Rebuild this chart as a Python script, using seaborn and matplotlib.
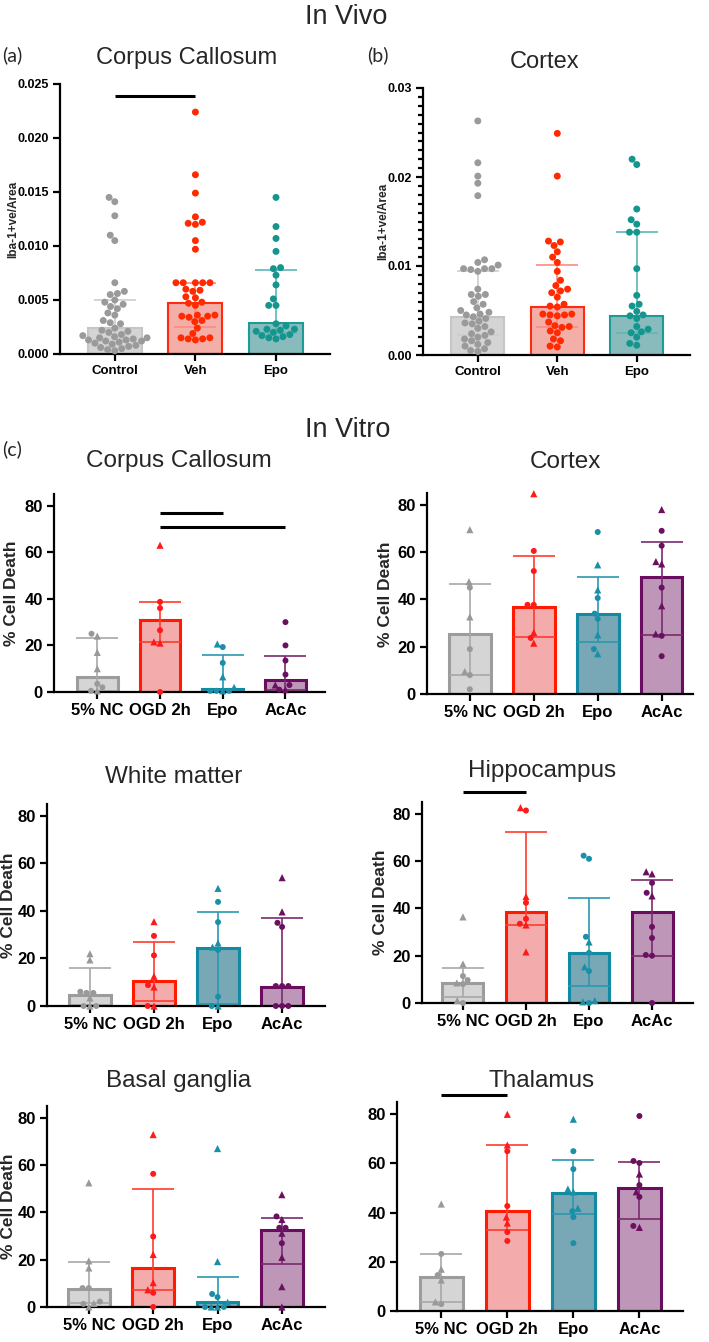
import warnings
warnings.filterwarnings("ignore")
import numpy as np
import pandas as pd
import matplotlib
matplotlib.use("Agg")
import matplotlib.pyplot as plt
from matplotlib.markers import MarkerStyle
from matplotlib.transforms import Affine2D
from matplotlib.ticker import MultipleLocator
import seaborn as sns

# ---------------- DATA ----------------
IV_CATS = ["Control", "Veh", "Epo"]
VT_CATS = ["5% NC", "OGD 2h", "Epo", "AcAc"]

# In vivo (a) Corpus Callosum, Iba-1+ve/Area
A_CONTROL = [0.0145, 0.0141, 0.0128, 0.0110, 0.0105, 0.0066, 0.0058, 0.0056, 0.0055, 0.0050,
             0.0048, 0.0046, 0.0044, 0.0042, 0.0038, 0.0036, 0.0031, 0.0029, 0.0028, 0.0024,
             0.0022, 0.0021, 0.0020, 0.0018, 0.0017, 0.0016, 0.0015, 0.0015, 0.0014, 0.0013,
             0.0013, 0.0012, 0.0012, 0.0011, 0.0010, 0.0009, 0.0008, 0.0007, 0.0006, 0.0005,
             0.0004, 0.0003]
A_VEH = [0.0224, 0.0166, 0.0149, 0.0127, 0.0122, 0.0121, 0.0120, 0.0105, 0.0097, 0.0066,
         0.0066, 0.0066, 0.0066, 0.0066, 0.0060, 0.0059, 0.0058, 0.0053, 0.0052, 0.0048,
         0.0047, 0.0045, 0.0036, 0.0036, 0.0035, 0.0035, 0.0034, 0.0031, 0.0030, 0.0024,
         0.0019, 0.0015, 0.0015, 0.0014, 0.0014, 0.0013]
A_EPO = [0.0145, 0.0118, 0.0107, 0.0095, 0.0080, 0.0079, 0.0073, 0.0064, 0.0051, 0.0045,
         0.0045, 0.0028, 0.0026, 0.0023, 0.0023, 0.0022, 0.0021, 0.0020, 0.0018, 0.0017,
         0.0016, 0.0015, 0.0014]
A_MED = [0.0024, 0.0047, 0.0029]
A_LO = [0.0012, 0.0025, 0.0019]
A_HI = [0.0050, 0.0066, 0.0078]
A_SIG = [(0, 1, 0.0239)]

# In vivo (b) Cortex
B_CONTROL = [0.0263, 0.0216, 0.0201, 0.0193, 0.0179, 0.0107, 0.0104, 0.0101, 0.0097, 0.0097,
             0.0097, 0.0096, 0.0094, 0.0074, 0.0068, 0.0068, 0.0066, 0.0060, 0.0057, 0.0053,
             0.0050, 0.0048, 0.0046, 0.0045, 0.0043, 0.0041, 0.0038, 0.0036, 0.0035, 0.0032,
             0.0030, 0.0026, 0.0024, 0.0022, 0.0020, 0.0018, 0.0016, 0.0014, 0.0012, 0.0010,
             0.0007, 0.0005, 0.0004]
B_VEH = [0.0249, 0.0201, 0.0128, 0.0127, 0.0123, 0.0116, 0.0110, 0.0104, 0.0094, 0.0084,
         0.0078, 0.0074, 0.0072, 0.0070, 0.0065, 0.0057, 0.0055, 0.0054, 0.0046, 0.0046,
         0.0045, 0.0045, 0.0044, 0.0037, 0.0033, 0.0032, 0.0031, 0.0027, 0.0025, 0.0018,
         0.0016, 0.0010, 0.0009]
B_EPO = [0.0220, 0.0214, 0.0164, 0.0152, 0.0147, 0.0138, 0.0138, 0.0097, 0.0067, 0.0057,
         0.0055, 0.0049, 0.0045, 0.0044, 0.0041, 0.0032, 0.0029, 0.0026, 0.0025, 0.0020,
         0.0013, 0.0011]
B_MED = [0.0043, 0.0054, 0.0044]
B_LO = [0.0022, 0.0032, 0.0025]
B_HI = [0.0094, 0.0101, 0.0138]

# In vitro (% cell death); triangles and circles per group
CC_TRI = [[24, 17, 10, 0.5], [63, 21.5, 21], [20.6, 6.5, 2, 0.5], [3, 1]]
CC_CIR = [[25, 3.5, 2, 0.5], [38.7, 36, 26.5, 0], [19.3, 12.5, 0.5, 0.5, 0.5], [30, 20, 13.5, 7.5, 3, 1]]
CC_MED = [6.5, 31, 1.5, 5]
CC_LO = [0.5, 21.5, 0.5, 1]
CC_HI = [23, 38.5, 16, 15.5]
CC_SIG = [(1, 2, 77), (1, 3, 71)]

CX_TRI = [[69.5, 47.5, 32.6, 9.5], [84.7, 26, 21.5], [54.6, 44, 25, 17], [78, 56, 55, 37.3, 25.4]]
CX_CIR = [[45, 19, 8, 2], [60.5, 52, 37.7, 37.7, 23.7], [68.5, 40.6, 34, 31.8, 19], [69, 62.7, 45, 24.6, 16]]
CX_MED = [25.5, 37, 34, 49.5]
CX_LO = [8, 24, 22, 25]
CX_HI = [46.5, 58.4, 49.5, 64.3]

WM_TRI = [[22, 19.4, 3.4, 0], [35.5, 12.5, 8, 0], [49.5, 26.5, 24.8, 0], [54, 39.6]]
WM_CIR = [[6, 5.5, 5.5, 0, 0], [29.5, 21.3, 8.8, 0], [43.8, 35.3, 23.6, 3.9, 0], [35, 33.3, 8.4, 8.4, 8.4, 0, 0, 0]]
WM_MED = [4.6, 10.5, 24.4, 8]
WM_LO = [0.5, 2, 1, 0]
WM_HI = [15.8, 27, 39.5, 37]

HP_TRI = [[36.4, 16.5, 8.5, 1], [82.6, 45, 33, 21.6], [25.8, 15.3, 1, 0.5], [55.5, 54.6, 45.3]]
HP_CIR = [[11.4, 9.7, 8, 0], [81.4, 42.4, 35.6, 33.5], [62.3, 61, 28, 21.2, 13.5, 0], [50.8, 46.6, 32.2, 27.5, 20.3, 20, 0]]
HP_MED = [8.5, 38.5, 21, 38.5]
HP_LO = [2.5, 33, 7, 20]
HP_HI = [15, 72.5, 44.5, 52]
HP_SIG = [(0, 1, 89.4)]

BG_TRI = [[52.5, 19.5, 16.5, 1.5, 0], [72.9, 22.2, 10.3, 7.3], [67, 19.2, 2, 0, 0], [47.5, 37, 31.2, 21, 8.6, 0]]
BG_CIR = [[8, 8, 2.3, 1.3], [56.3, 29.8, 6, 0], [5.5, 4.2, 0, 0], [38.3, 33.5, 33.5, 27]]
BG_MED = [7.5, 16.3, 2, 32.5]
BG_LO = [1.5, 7, 0, 18.3]
BG_HI = [19, 49.7, 12.5, 37.5]

TH_TRI = [[43.5, 17, 12.6, 3.7], [80, 67.5, 38.2, 35.8], [78, 49.6, 48.4, 41.8], [55.7, 48.5, 34]]
TH_CIR = [[23.2, 14.6, 2.8], [65, 42.7, 32.1, 28.5], [65, 57.7, 40.6, 38.2, 27.6], [79.3, 61, 60.2, 51.2, 46.4, 34.6]]
TH_MED = [14, 40.5, 48, 50]
TH_LO = [3.5, 33, 39.5, 37.5]
TH_HI = [23, 67.5, 61.3, 60.5]
TH_SIG = [(0, 1, 87.8)]

VT_YTICKS = [0, 20, 40, 60, 80]

# ---------------- STYLE ----------------
IV_FILL = ['#d4d4d4', '#ffa49c', '#80c3c5']
IV_EDGE = ['#c6c6c6', '#ff2a10', '#1a9c98']
IV_PTS = ['#9a9a9a', '#ff2a00', '#14968f']
IV_ERR = ['#cdcdcd', '#ff8a80', '#5ab9b5']

VT_FILL = ['#d5d5d5', '#ff9f9f', '#6eadbf', '#c48fbd']
VT_EDGE = ['#9c9c9c', '#ff1a00', '#138aa3', '#6a0d5e']
VT_PTS = ['#999999', '#ff1a1a', '#1a8fa8', '#6b1060']
VT_ERR = ['#a8a8a8', '#ff3b2f', '#2a98b0', '#7a2a6e']

W, H = 709, 1342
sns.set_theme(style="ticks")
plt.rcParams['font.family'] = ['Liberation Sans', 'DejaVu Sans']

fig = plt.figure(figsize=(W / 100, H / 100), dpi=100)
fig.patch.set_facecolor('white')


def add_ax(l, t, r, b):
    return fig.add_axes([l / W, 1 - b / H, (r - l) / W, (b - t) / H])


def ftext(x, y, s, **kw):
    fig.text(x / W, 1 - y / H, s, **kw)


def _mpath(m, scale=1.0):
    ms = MarkerStyle(m)
    return ms.get_path().transformed(ms.get_transform() + Affine2D().scale(scale))


PATHS = {'o': _mpath('o'), '^': _mpath('^', 1.2)}


def draw_panel(ax, cats, tri, cir, med, lo, hi, fills, edges, pts, errc, ylim, yticks, yticklabels,
               xlim, bar_w, pt_size, fs_tick, fs_x, edge_lw, cap, sigs=()):
    rows = []
    for c, tv, cv in zip(cats, tri, cir):
        for v in tv:
            rows.append((c, v, '^'))
        for v in cv:
            rows.append((c, v, 'o'))
    df = pd.DataFrame(rows, columns=['group', 'value', 'marker'])
    bar_df = pd.DataFrame({'group': cats, 'value': med})
    sns.barplot(data=bar_df, x='group', y='value', hue='group', order=cats, hue_order=cats,
                palette=fills, width=bar_w, legend=False, ax=ax, errorbar=None, zorder=1)
    for p, ec in zip(ax.patches, edges):
        p.set_edgecolor(ec)
        p.set_linewidth(edge_lw)
    x = np.arange(len(cats))
    for i in range(len(cats)):
        ax.errorbar(x[i], med[i], yerr=[[med[i] - lo[i]], [hi[i] - med[i]]], fmt='none',
                    ecolor=errc[i], elinewidth=1.2, capsize=cap, capthick=1.2, zorder=2)
    n0 = len(ax.collections)
    sns.swarmplot(data=df, x='group', y='value', hue='group', order=cats, hue_order=cats,
                  palette=pts, size=pt_size, legend=False, ax=ax, zorder=3, clip_on=False,
                  linewidth=0)
    for coll in ax.collections[n0:]:
        offs = np.asarray(coll.get_offsets())
        if len(offs) == 0:
            continue
        gi = int(round(float(np.median(offs[:, 0]))))
        sub = df[df.group == cats[gi]]
        pool = {}
        for v, m in zip(sub.value, sub.marker):
            pool.setdefault(round(float(v), 6), []).append(m)
        kinds = []
        for yv in offs[:, 1]:
            lst = pool.get(round(float(yv), 6), ['o'])
            kinds.append(lst.pop(0) if lst else 'o')
        coll.set_paths([PATHS[k] for k in kinds])
    for a, b, yv in sigs:
        ax.plot([a, b], [yv, yv], color='black', lw=2.2, clip_on=False, solid_capstyle='butt', zorder=4)
    ax.set_xlim(*xlim)
    ax.set_ylim(*ylim)
    ax.set_yticks(yticks)
    ax.set_yticklabels(yticklabels, fontweight='bold', fontsize=fs_tick, color='black')
    ax.set_xticks(x)
    ax.set_xticklabels(cats, fontweight='bold', fontsize=fs_x, color='black')
    ax.set_xlabel('')
    ax.set_ylabel('')
    ax.set_facecolor('none')
    for s in ['top', 'right']:
        ax.spines[s].set_visible(False)
    for s in ['left', 'bottom']:
        ax.spines[s].set_linewidth(1.6)
        ax.spines[s].set_color('black')
    ax.tick_params(width=1.6, length=5, color='black', pad=3)


# ---------------- IN VIVO ----------------
ftext(346, 17, "In Vivo", fontsize=19.5, ha='center', va='center')
ftext(2, 55, "(a)", fontsize=14, ha='left', va='center', family=['Lato', 'DejaVu Sans'])
ftext(367, 55, "(b)", fontsize=14, ha='left', va='center', family=['Lato', 'DejaVu Sans'])

axA = add_ax(60, 84, 330, 354)
draw_panel(axA, IV_CATS, [[], [], []], [A_CONTROL, A_VEH, A_EPO], A_MED, A_LO, A_HI,
           IV_FILL, IV_EDGE, IV_PTS, IV_ERR, (0, 0.025), [0, 0.005, 0.01, 0.015, 0.02, 0.025],
           ['0.000', '0.005', '0.010', '0.015', '0.020', '0.025'], (-0.68, 2.67), 0.67, 5.0,
           9, 9.5, 1.5, 15, A_SIG)
ftext(187, 58, "Corpus Callosum", fontsize=17, ha='center', va='center')
ftext(13, 219, "Iba-1+ve/Area", fontsize=8.5, fontweight='bold', rotation=90, ha='center', va='center')

axB = add_ax(423, 88, 690, 355)
draw_panel(axB, IV_CATS, [[], [], []], [B_CONTROL, B_VEH, B_EPO], B_MED, B_LO, B_HI,
           IV_FILL, IV_EDGE, IV_PTS, IV_ERR, (0, 0.03), [0, 0.01, 0.02, 0.03],
           ['0.00', '0.01', '0.02', '0.03'], (-0.69, 2.67), 0.67, 5.0, 9, 9.5, 1.5, 15)
axB.yaxis.set_minor_locator(MultipleLocator(0.001))
axB.tick_params(axis='y', which='minor', length=3.5, width=1.6, color='black')
ftext(545, 62, "Cortex", fontsize=17, ha='center', va='center')
ftext(383, 221, "Iba-1+ve/Area", fontsize=8.5, fontweight='bold', rotation=90, ha='center', va='center')

# ---------------- IN VITRO ----------------
ftext(348, 430, "In Vitro", fontsize=19.5, ha='center', va='center')
ftext(2, 449, "(c)", fontsize=14, ha='left', va='center', family=['Lato', 'DejaVu Sans'])

VT_LAB = [str(t) for t in VT_YTICKS]
panels = [
    ((54, 494, 325, 692), CC_TRI, CC_CIR, CC_MED, CC_LO, CC_HI, (-0.69, 3.63), CC_SIG,
     "Corpus Callosum", (179, 461), (12, 593)),
    ((427, 493, 693, 694), CX_TRI, CX_CIR, CX_MED, CX_LO, CX_HI, (-0.67, 3.49), (),
     "Cortex", (565, 462), (385, 594)),
    ((47, 804, 325, 1006), WM_TRI, WM_CIR, WM_MED, WM_LO, WM_HI, (-0.67, 3.67), (),
     "White matter", (174, 777), (9, 905)),
    ((422, 802, 693, 1003), HP_TRI, HP_CIR, HP_MED, HP_LO, HP_HI, (-0.65, 3.65), HP_SIG,
     "Hippocampus", (542, 771), (380, 902)),
    ((47, 1106, 325, 1307), BG_TRI, BG_CIR, BG_MED, BG_LO, BG_HI, (-0.65, 3.67), (),
     "Basal ganglia", (179, 1081), (9, 1206)),
    ((397, 1102, 683, 1311), TH_TRI, TH_CIR, TH_MED, TH_LO, TH_HI, (-0.67, 3.66), TH_SIG,
     "Thalamus", (542, 1081), None),
]

for rect, tri, cir, med, lo, hi, xl, sig, title, tpos, ypos in panels:
    ax = add_ax(*rect)
    draw_panel(ax, VT_CATS, tri, cir, med, lo, hi, VT_FILL, VT_EDGE, VT_PTS, VT_ERR,
               (0, 85), VT_YTICKS, VT_LAB, xl, 0.65, 4.3, 12, 12, 2.2, 15, sig)
    ftext(tpos[0], tpos[1], title, fontsize=17.5, ha='center', va='center')
    if ypos is not None:
        ftext(ypos[0], ypos[1], "% Cell Death", fontsize=12.5, fontweight='bold', rotation=90,
              ha='center', va='center')

fig.savefig("out.png", dpi=100, facecolor='white')
